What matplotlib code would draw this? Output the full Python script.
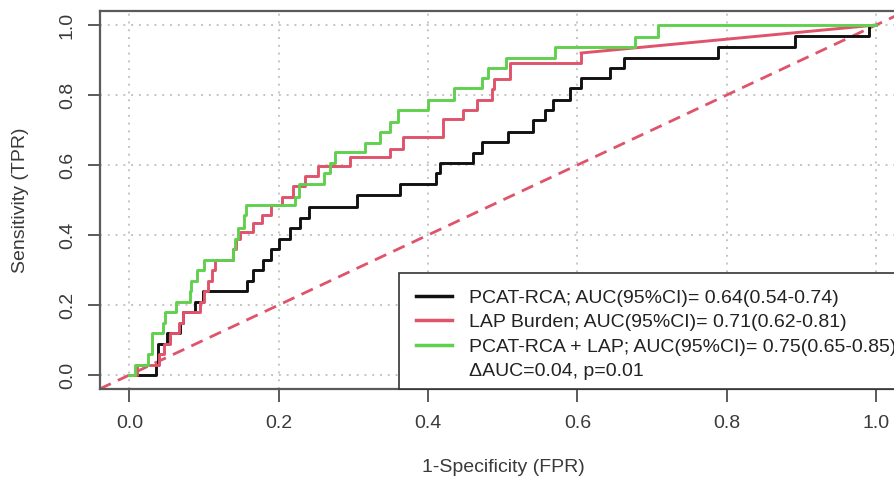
import matplotlib
matplotlib.use("Agg")
import matplotlib.pyplot as plt
from matplotlib.lines import Line2D
from matplotlib.patches import Rectangle

plt.rcParams['font.family'] = ['Liberation Sans', 'DejaVu Sans']

# ---- data (step points: fpr where the jump happens, tpr after the jump) ----
black_fpr = [0, 0.035, 0.038, 0.05, 0.068, 0.072, 0.088, 0.098, 0.157, 0.166, 0.179,
             0.19, 0.20, 0.215, 0.228, 0.24, 0.305, 0.362, 0.41, 0.416, 0.46, 0.472,
             0.507, 0.54, 0.556, 0.567, 0.59, 0.605, 0.643, 0.663, 0.788, 0.891, 0.991, 1.0]
black_tpr = [0, 0.03, 0.09, 0.12, 0.15, 0.18, 0.21, 0.24, 0.27, 0.30, 0.33,
             0.36, 0.39, 0.42, 0.45, 0.48, 0.515, 0.545, 0.577, 0.606, 0.634, 0.667,
             0.694, 0.728, 0.757, 0.786, 0.82, 0.848, 0.877, 0.906, 0.937, 0.969, 1.0, 1.0]

red_fpr = [0, 0.01, 0.04, 0.046, 0.055, 0.066, 0.072, 0.094, 0.10, 0.105, 0.11, 0.114,
           0.139, 0.143, 0.148, 0.166, 0.177, 0.19, 0.205, 0.219, 0.235, 0.252, 0.295,
           0.349, 0.366, 0.42, 0.447, 0.466, 0.485, 0.488, 0.51, 0.605, 1.0]
red_tpr = [0, 0.03, 0.06, 0.09, 0.12, 0.15, 0.18, 0.21, 0.24, 0.27, 0.30, 0.33,
           0.36, 0.39, 0.41, 0.434, 0.457, 0.486, 0.51, 0.54, 0.57, 0.597, 0.622,
           0.645, 0.68, 0.731, 0.757, 0.786, 0.818, 0.845, 0.891, 0.92, 1.0]

green_fpr = [0, 0.007, 0.025, 0.03, 0.045, 0.048, 0.063, 0.081, 0.083, 0.09, 0.10,
             0.139, 0.142, 0.146, 0.153, 0.156, 0.222, 0.227, 0.26, 0.268, 0.275,
             0.315, 0.335, 0.349, 0.36, 0.40, 0.435, 0.472, 0.48, 0.505, 0.57, 0.677, 0.708, 1.0]
green_tpr = [0, 0.03, 0.06, 0.12, 0.15, 0.18, 0.21, 0.24, 0.27, 0.30, 0.33,
             0.36, 0.39, 0.42, 0.457, 0.486, 0.51, 0.545, 0.577, 0.606, 0.636,
             0.663, 0.694, 0.723, 0.757, 0.786, 0.82, 0.848, 0.877, 0.906, 0.937, 0.966, 1.0, 1.0]

labels = ["PCAT-RCA; AUC(95%CI)= 0.64(0.54-0.74)",
          "LAP Burden; AUC(95%CI)= 0.71(0.62-0.81)",
          "PCAT-RCA + LAP; AUC(95%CI)= 0.75(0.65-0.85)",
          "\u0394AUC=0.04, p=0.01"]
ticks = [0.0, 0.2, 0.4, 0.6, 0.8, 1.0]
tick_labels = ["0.0", "0.2", "0.4", "0.6", "0.8", "1.0"]

BLACK = "#111111"
RED = "#DF536B"
GREEN = "#61D04F"

W, H = 894, 483
fig = plt.figure(figsize=(W / 100, H / 100), dpi=100)
ax_l, ax_r, ax_b, ax_t = 99.5, 906.0, 389.0, 11.0
AW, AH = ax_r - ax_l, ax_b - ax_t
ax = fig.add_axes([ax_l / W, (H - ax_b) / H, AW / W, AH / H])
ax.set_xlim(-0.04, 1.04)
ax.set_ylim(-0.04, 1.04)

ax.grid(True, color="#c4c4c4", linestyle=(0, (1, 3)), linewidth=1.4)
ax.set_axisbelow(True)

ax.axline((0, 0), (1, 1), color=RED, linestyle=(0, (4.5, 2.8)), linewidth=2.0, zorder=2)

lw = 2.1
ax.plot(black_fpr, black_tpr, drawstyle="steps-post", color=BLACK, lw=lw, zorder=3)
ax.plot(red_fpr[:-1], red_tpr[:-1], drawstyle="steps-post", color=RED, lw=lw, zorder=4)
ax.plot(red_fpr[-2:], red_tpr[-2:], color=RED, lw=lw, zorder=4)
ax.plot(green_fpr, green_tpr, drawstyle="steps-post", color=GREEN, lw=lw, zorder=5)

ax.set_xticks(ticks)
ax.set_xticklabels(tick_labels)
ax.set_yticks(ticks)
ax.set_yticklabels(tick_labels, rotation=90, va="center")

spine_c = "#5a5a5a"
for s in ax.spines.values():
    s.set_color(spine_c)
    s.set_linewidth(1.6)
ax.tick_params(length=9, width=1.4, color=spine_c, labelsize=14, labelcolor="#3a3a3a")
ax.tick_params(axis="x", pad=10)
ax.tick_params(axis="y", pad=8)

ax.set_xlabel("1-Specificity (FPR)", fontsize=14, color="#3a3a3a")
ax.set_ylabel("Sensitivity (TPR)", fontsize=14, color="#3a3a3a")
ax.xaxis.set_label_coords((503 - ax_l) / AW, (ax_b - 467) / AH)
ax.xaxis.label.set_va("center")
ax.yaxis.set_label_coords((21 - ax_l) / AW, (ax_b - 200) / AH)
ax.yaxis.label.set_va("center")

# legend frame (bottom-right box, flush with the plot region)
frame = Rectangle(((399 - ax_l) / AW, 0), 1.0, (ax_b - 273) / AH, transform=ax.transAxes,
                  facecolor="white", edgecolor="#333333", lw=1.2, zorder=6, clip_on=False)
ax.add_patch(frame)

handles = [Line2D([], [], color=BLACK, lw=2.5),
           Line2D([], [], color=RED, lw=2.5),
           Line2D([], [], color=GREEN, lw=2.5),
           Line2D([], [], color="none", lw=0)]
leg = ax.legend(handles, labels, loc="upper left",
                bbox_to_anchor=((416 - ax_l) / AW, (ax_b - 289) / AH),
                borderaxespad=0, borderpad=0, fontsize=14, frameon=False,
                handlelength=1.87, handletextpad=0.88, labelspacing=0.36)
leg.set_zorder(7)
for t in leg.get_texts():
    t.set_color("#222222")

fig.savefig("out.png", dpi=100)
